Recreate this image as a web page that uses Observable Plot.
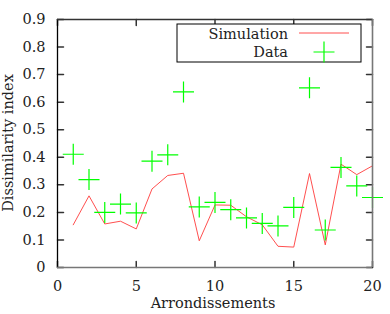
<!DOCTYPE html>
<html><head><meta charset="utf-8">
<script src="https://cdn.jsdelivr.net/npm/d3@7"></script>
<script src="https://cdn.jsdelivr.net/npm/@observablehq/plot@0.6"></script>
<style>body{margin:0;background:#fff;} #chart{position:relative;width:390px;height:314px;}</style>
</head><body><div id="chart"></div>
<script>
const arrondissements = [1,2,3,4,5,6,7,8,9,10,11,12,13,14,15,16,17,18,19,20];
const simulation = [0.155,0.26,0.158,0.168,0.14,0.285,0.334,0.342,0.097,0.227,0.226,0.184,0.155,0.077,0.074,0.341,0.082,0.375,0.337,0.369];
const dataValues = [0.411,0.319,0.2,0.23,0.198,0.386,0.409,0.637,0.22,0.236,0.21,0.18,0.16,0.151,0.218,0.652,0.136,0.363,0.296,0.254];
const xTicks = [0,5,10,15,20];
const yTicks = [0,0.1,0.2,0.3,0.4,0.5,0.6,0.7,0.8,0.9];

const sim = arrondissements.map((a,i)=>({x:a,y:simulation[i]}));
const obs = arrondissements.map((a,i)=>({x:a,y:dataValues[i]}));

const crossSymbol = {draw(ctx, size){ const r = Math.sqrt(size/Math.PI); ctx.moveTo(-r,0); ctx.lineTo(r,0); ctx.moveTo(0,-r); ctx.lineTo(0,r);} };
const tickShape = {draw(ctx, l){ ctx.moveTo(0,0); ctx.lineTo(0,-l);} };
const font = "'DejaVu Serif', serif";

const plot = Plot.plot({
  width: 390, height: 314,
  marginLeft: 57, marginRight: 18, marginTop: 19, marginBottom: 47,
  style: {fontFamily: font, fontSize: "14.5px", color: "#222", overflow: "visible"},
  x: {domain: [0,20], ticks: xTicks, tickSize: 0, tickPadding: 13, label: null},
  y: {domain: [0,0.9], ticks: yTicks, tickSize: 0, tickPadding: 12, label: null, tickFormat: d => d === 0 ? "0" : d3.format(".1f")(d)},
  marks: [
    Plot.vector(xTicks, {x: d=>d, y: 0, length: 6, rotate: 0, anchor: "start", shape: tickShape, stroke: "#333"}),
    Plot.vector(xTicks, {x: d=>d, y: 0.9, length: 6, rotate: 180, anchor: "start", shape: tickShape, stroke: "#333"}),
    Plot.vector(yTicks, {x: 0, y: d=>d, length: 6, rotate: 90, anchor: "start", shape: tickShape, stroke: "#333"}),
    Plot.vector(yTicks, {x: 20, y: d=>d, length: 6, rotate: -90, anchor: "start", shape: tickShape, stroke: "#333"}),
    Plot.line(sim, {x:"x", y:"y", stroke: "#ff3b3b", strokeWidth: 0.9}),
    Plot.dot(obs, {x:"x", y:"y", symbol: crossSymbol, r: 10.5, stroke: "#00ff00", strokeWidth: 1.2, fill: "none"}),
    Plot.ruleX([0], {stroke: "#000", strokeWidth: 1.3}),
    Plot.ruleY([0.9], {stroke: "#333", strokeWidth: 1.3}),
    Plot.ruleY([0], {stroke: "#777", strokeWidth: 1.6}),
    Plot.ruleX([20], {stroke: "#777", strokeWidth: 1.6})
  ]
});
document.getElementById("chart").appendChild(plot);

const svg = d3.select(plot);
const g = svg.append("g").style("font-family", font).attr("font-size", 14.5).attr("fill", "#222");
g.append("rect").attr("x", 177).attr("y", 24).attr("width", 184).attr("height", 38).attr("fill", "#fff").attr("stroke", "#000").attr("stroke-width", 1);
g.append("text").attr("x", 288).attr("y", 38.5).attr("text-anchor", "end").text("Simulation");
g.append("line").attr("x1", 299).attr("x2", 349).attr("y1", 33).attr("y2", 33).attr("stroke", "#ff3b3b").attr("stroke-width", 0.9);
g.append("text").attr("x", 288).attr("y", 56.5).attr("text-anchor", "end").text("Data");
g.append("path").attr("d", "M313.5,52h21M324,41.5v21").attr("stroke", "#00ff00").attr("stroke-width", 1.2);
g.append("text").attr("x", 213).attr("y", 308).attr("text-anchor", "middle").text("Arrondissements");
g.append("text").attr("transform", "translate(13,143) rotate(-90)").attr("text-anchor", "middle").text("Dissimilarity index");
</script></body></html>
